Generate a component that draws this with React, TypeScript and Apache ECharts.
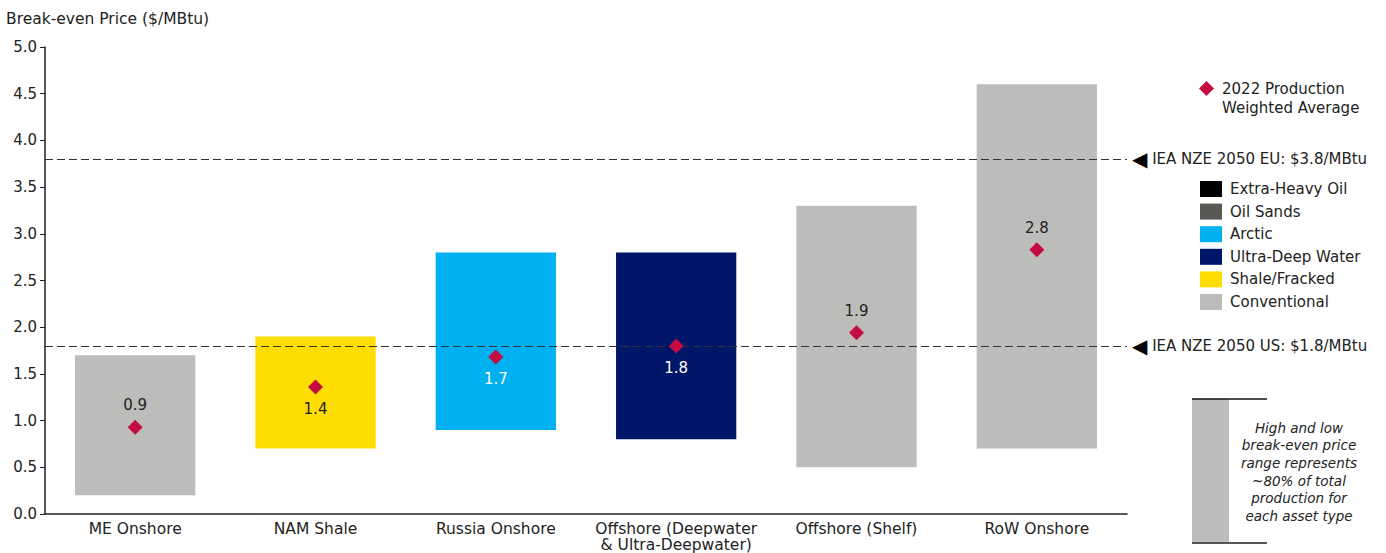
import React, { useEffect, useRef } from "react";
import * as echarts from "echarts";

const categories = [
  "ME Onshore",
  "NAM Shale",
  "Russia Onshore",
  "Offshore (Deepwater\n& Ultra-Deepwater)",
  "Offshore (Shelf)",
  "RoW Onshore",
];
const lows = [0.2, 0.7, 0.9, 0.8, 0.5, 0.7];
const highs = [1.7, 1.9, 2.8, 2.8, 3.3, 4.6];
const averages = [0.93, 1.36, 1.68, 1.8, 1.94, 2.83];
const assetTypes = ["Conventional", "Shale/Fracked", "Arctic", "Ultra-Deep Water", "Conventional", "Conventional"];
const typeNames = ["Extra-Heavy Oil", "Oil Sands", "Arctic", "Ultra-Deep Water", "Shale/Fracked", "Conventional"];
const typeColors = ["#000000", "#595a55", "#00b0f0", "#001668", "#ffdd00", "#bcbdba"];
const labelBelow = [false, true, true, true, false, false];
const labelWhite = [false, false, true, true, false, false];
const thresholds = [3.8, 1.8];
const thresholdLabels = ["IEA NZE 2050 EU: $3.8/MBtu", "IEA NZE 2050 US: $1.8/MBtu"];
const yTicks = [0, 0.5, 1, 1.5, 2, 2.5, 3, 3.5, 4, 4.5, 5];
const avgName = "2022 Production\nWeighted Average";
const noteLines = [
  "High and low",
  "break-even price",
  "range represents",
  "~80% of total",
  "production for",
  "each asset type",
];

const FONT = "DejaVu Sans";
const TXT = "#222222";
// diamond in the upper part of a taller icon box, so it lines up with the first text line
const DIAMOND_TOP_ICON = "path://M7.5 0 L15 7.5 L7.5 15 L0 7.5 Z M7.5 34 L7.52 34 L7.5 34.02 Z";

export default function App() {
  const ref = useRef<HTMLDivElement>(null);
  useEffect(() => {
    if (!ref.current) return;
    const chart = echarts.init(ref.current, undefined, { renderer: "svg" });

    const rangeSeries = typeNames.map((t, k) => ({
      name: t,
      type: "bar",
      stack: "range",
      barWidth: "66.7%",
      itemStyle: { color: typeColors[k] },
      data: categories.map((_, i) =>
        assetTypes[i] === t ? +(highs[i] - lows[i]).toFixed(2) : "-"
      ),
      z: 2,
    }));

    chart.setOption({
      animation: false,
      textStyle: { fontFamily: FONT },
      title: {
        text: "Break-even Price ($/MBtu)",
        left: 1,
        top: 6,
        textStyle: { fontFamily: FONT, fontSize: 15.5, fontWeight: "normal", color: TXT },
      },
      grid: { left: 45, right: 259, top: 47, bottom: 35, containLabel: false },
      legend: [
        {
          data: [{ name: avgName, icon: DIAMOND_TOP_ICON }],
          left: 1194,
          top: 74,
          itemWidth: 15,
          itemHeight: 34,
          itemGap: 0,
          textStyle: {
            fontFamily: FONT,
            fontSize: 15,
            color: TXT,
            lineHeight: 19,
            padding: [0, 0, 0, 3],
          },
          selectedMode: false,
        },
        {
          data: typeNames,
          orient: "vertical",
          left: 1195,
          top: 176,
          icon: "rect",
          itemWidth: 22,
          itemHeight: 16,
          itemGap: 6.6,
          textStyle: { fontFamily: FONT, fontSize: 15, color: TXT, padding: [0, 0, 0, 3] },
          selectedMode: false,
        },
      ],
      xAxis: {
        type: "category",
        data: categories,
        axisLine: { lineStyle: { color: "#222", width: 1.5 } },
        axisTick: { show: false },
        axisLabel: { color: TXT, fontSize: 15.5, lineHeight: 16, margin: 7, interval: 0 },
      },
      yAxis: {
        type: "value",
        min: yTicks[0],
        max: yTicks[yTicks.length - 1],
        interval: 0.5,
        splitLine: { show: false },
        axisLine: { show: true, lineStyle: { color: "#222", width: 1.5 } },
        axisTick: { show: true, length: 5, lineStyle: { color: "#222" } },
        axisLabel: {
          color: TXT,
          fontSize: 15,
          margin: 8,
          formatter: (v: number) => v.toFixed(1),
        },
      },
      series: [
        {
          name: "base",
          type: "bar",
          stack: "range",
          barWidth: "66.7%",
          itemStyle: { color: "transparent" },
          data: lows,
          silent: true,
          markLine: {
            silent: true,
            symbol: ["none", "none"],
            lineStyle: { color: "#333", type: [8, 4], width: 1 },
            label: {
              position: "end",
              distance: 5,
              color: TXT,
              fontSize: 15,
              formatter: (p: any) => "{a|◀} " + thresholdLabels[p.dataIndex],
              rich: { a: { fontSize: 20, color: "#000", fontFamily: FONT } },
            },
            data: thresholds.map((v) => ({ yAxis: v })),
          },
        },
        ...rangeSeries,
        {
          name: avgName,
          type: "scatter",
          symbol: "diamond",
          symbolSize: 15,
          itemStyle: { color: "#c40c40", opacity: 1 },
          z: 5,
          data: averages.map((v, i) => ({
            value: v,
            label: {
              show: true,
              position: labelBelow[i] ? "bottom" : "top",
              distance: 7,
              color: labelWhite[i] ? "#ffffff" : TXT,
              fontSize: 15,
              formatter: (p: any) => (Math.round(p.value * 10) / 10).toFixed(1),
            },
          })),
        },
      ],
      graphic: [
        { type: "rect", shape: { x: 1192, y: 399, width: 37, height: 144 }, style: { fill: "#bcbdba" } },
        { type: "line", shape: { x1: 1192, y1: 399, x2: 1267, y2: 399 }, style: { stroke: "#111", lineWidth: 1.5 } },
        { type: "line", shape: { x1: 1192, y1: 543, x2: 1267, y2: 543 }, style: { stroke: "#555", lineWidth: 2 } },
        {
          type: "text",
          x: 1299,
          y: 419,
          style: {
            text: noteLines.join("\n"),
            align: "center",
            verticalAlign: "top",
            fontFamily: FONT,
            fontStyle: "italic",
            fontSize: 13.5,
            lineHeight: 17.6,
            fill: TXT,
          },
        },
      ],
    });
    return () => chart.dispose();
  }, []);
  return (
    <div
      ref={ref}
      style={{ position: "fixed", left: 0, top: 0, width: 1386, height: 553, background: "#fff" }}
    />
  );
}
